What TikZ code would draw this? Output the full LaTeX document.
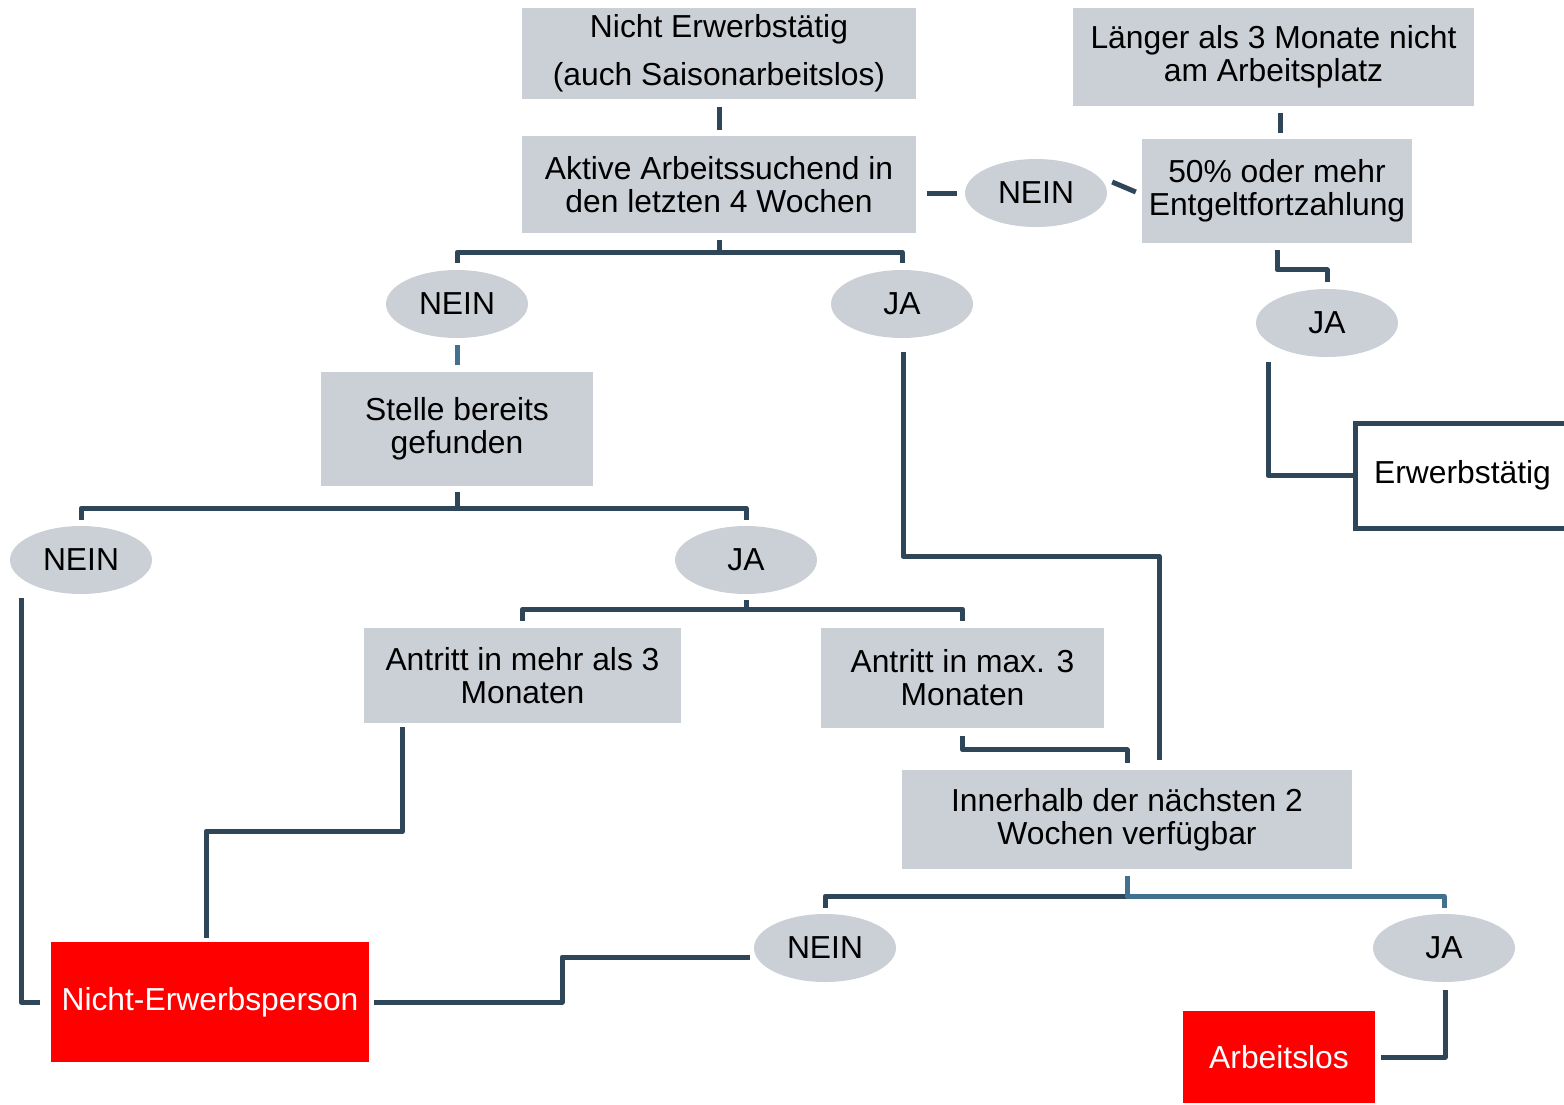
\documentclass[tikz,border=0pt]{standalone}
\usepackage{fontspec}
\setmainfont{Liberation Sans}
\usetikzlibrary{shapes.geometric,calc}
\definecolor{boxgray}{HTML}{CBD0D7}
\definecolor{linedark}{HTML}{2F4659}
\definecolor{linelight}{HTML}{41718E}
\definecolor{alarmred}{HTML}{FF0000}
\begin{document}
\begin{tikzpicture}[x=1pt,y=-1pt,
  every node/.style={font=\fontsize{31.8}{33}\selectfont, inner sep=0pt, align=center},
  graybox/.style={fill=boxgray},
  redbox/.style={fill=alarmred, text=white},
  ellip/.style={ellipse, fill=boxgray, minimum width=142pt, minimum height=68pt},
  conn/.style={draw=linedark, line width=5pt, line join=round},
  connlight/.style={draw=linelight, line width=5pt, line join=round}]
\useasboundingbox (0,0) rectangle (1564,1104);
% boxes
\node[graybox, minimum width=394pt, minimum height=91pt] (b1) at (719,53.5) {Nicht Erwerbstätig\\[15pt](auch Saisonarbeitslos)};
\node[graybox, minimum width=394pt, minimum height=97pt] (b2) at (719,184.5) {Aktive Arbeitssuchend in\\den letzten 4 Wochen};
\node[graybox, minimum width=401pt, minimum height=98pt] (b3) at (1273.5,57) {Länger als 3 Monate nicht\\am Arbeitsplatz};
\node[graybox, minimum width=270pt, minimum height=104pt] (b4) at (1277,191) {50\% oder mehr\\Entgeltfortzahlung};
\node[graybox, minimum width=272pt, minimum height=114pt] (b5) at (457,429) {Stelle bereits\\gefunden};
\node[graybox, minimum width=317pt, minimum height=95pt] (b6) at (522.5,675.5) {Antritt in mehr als 3\\Monaten};
\node[graybox, minimum width=283pt, minimum height=100pt] (b7) at (962.5,678) {Antritt in max. 3\\Monaten};
\node[graybox, minimum width=450pt, minimum height=99pt] (b8) at (1127,819.5) {Innerhalb der nächsten 2\\Wochen verfügbar};
\node[draw=linedark, line width=5pt, fill=white, minimum width=215pt, minimum height=105pt] (erw) at (1462.5,475.5) {Erwerbstätig};
\node[redbox, minimum width=318pt, minimum height=120pt] (ne) at (210,1002) {Nicht-Erwerbsperson};
\node[redbox, minimum width=192pt, minimum height=92pt] (al) at (1279,1057) {Arbeitslos};
% ellipses
\node[ellip] (e1) at (1036,193) {NEIN};
\node[ellip] (e2) at (457,304) {NEIN};
\node[ellip] (e3) at (902,304) {JA};
\node[ellip] (e4) at (1327,323) {JA};
\node[ellip] (e5) at (81,560) {NEIN};
\node[ellip] (e6) at (746,560) {JA};
\node[ellip] (e7) at (825,948) {NEIN};
\node[ellip] (e8) at (1444,948) {JA};
\coordinate (k1) at (562,957);
% connectors
\draw[conn] ($(b1.south)+(0,8)$) -- ($(b2.north)+(0,-6)$);
\draw[conn] ($(e1.west)+(-38,0)$) -- ($(e1.west)+(-8,0)$);
\draw[conn] ($(e1.east)+(5,-11)$) -- ($(b4.west)+(-6,1)$);
\draw[conn] ($(b4.north)+(3,-26)$) -- ($(b4.north)+(3,-6)$);
\draw[conn] ($(b4.south)+(0,7)$) |- ($(e4.north)+(0,-19)$) -- ($(e4.north)+(0,-7)$);
\draw[conn] ($(e4.south)+(-59,5)$) |- (erw.west);
\draw[conn] ($(b2.south)+(0,7)$) -- ($(b2.south)+(0,19)$);
\draw[conn] ($(e2.north)+(0,-7)$) |- ($(b2.south)+(0,19)$) -| ($(e3.north)+(0,-7)$);
\draw[connlight] ($(e2.south)+(0,7)$) -- ($(b5.north)+(0,-7)$);
\draw[conn] ($(e3.south)+(1,14)$) -- ($(e3.south)+(1,218)$) -| ($(b8.north)+(32,-10)$);
\draw[conn] ($(b5.south)+(0,6)$) -- ($(b5.south)+(0,22)$);
\draw[conn] ($(e5.north)+(0,-6)$) |- ($(b5.south)+(0,22)$) -| ($(e6.north)+(0,-6)$);
\draw[conn] ($(e5.south)+(-60,4)$) |- ($(ne.west)+(-11,0)$);
\draw[conn] ($(e6.south)+(0,6)$) -- ($(e6.south)+(0,15)$);
\draw[conn] ($(b6.north)+(0,-7)$) |- ($(e6.south)+(0,15)$) -| ($(b7.north)+(0,-7)$);
\draw[conn] ($(b6.south)+(-120,4)$) -- ($(b6.south)+(-120,108)$) -| ($(ne.north)+(-4,-4)$);
\draw[conn] ($(b7.south)+(0,8)$) |- ($(b8.north)+(0,-20)$) -- ($(b8.north)+(0,-7)$);
\draw[conn] ($(e7.north)+(0,-6)$) |- ($(b8.south)+(0,27)$);
\draw[connlight] ($(b8.south)+(0,7)$) -- ($(b8.south)+(0,27)$) -| ($(e8.north)+(0,-6)$);
\draw[conn] ($(e7.west)+(-4,9)$) -- (k1) |- ($(ne.east)+(5,0)$);
\draw[conn] ($(e8.south)+(1,8)$) |- ($(al.east)+(6,0)$);
\end{tikzpicture}
\end{document}
